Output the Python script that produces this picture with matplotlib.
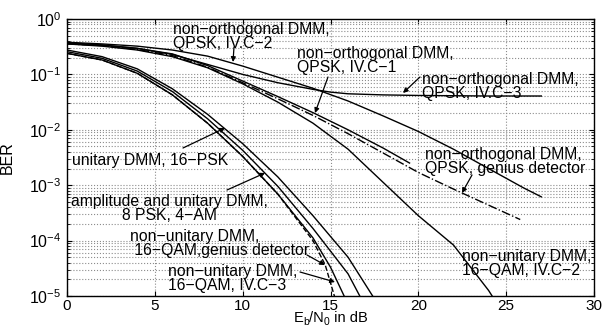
import numpy as np
import matplotlib
matplotlib.use("Agg")
import matplotlib.pyplot as plt

plt.rcParams["font.family"] = ["Liberation Sans", "DejaVu Sans"]

# Eb/N0 (dB) and log10(BER)
snr_c2 = [0, 2, 4, 6, 8, 10, 12, 14, 16, 18, 20, 22, 24, 26, 27]
ber_c2 = [-0.42, -0.45, -0.49, -0.56, -0.67, -0.85, -1.05, -1.25, -1.48, -1.75, -2.03, -2.35, -2.70, -3.05, -3.21]

snr_c3 = [0, 2, 4, 6, 8, 10, 12, 14, 15, 16, 18, 20, 22, 24, 27]
ber_c3 = [-0.43, -0.47, -0.53, -0.64, -0.82, -1.00, -1.15, -1.27, -1.32, -1.35, -1.37, -1.38, -1.385, -1.39, -1.39]

snr_c1 = [0, 2, 4, 6, 8, 10, 12, 14, 16, 18, 19.5]
ber_c1 = [-0.44, -0.47, -0.53, -0.63, -0.84, -1.12, -1.40, -1.69, -2.00, -2.33, -2.60]

snr_gen_q = [0, 2, 4, 6, 8, 10, 12, 14, 16, 18, 20, 22, 24, 25.8]
ber_gen_q = [-0.45, -0.48, -0.55, -0.66, -0.87, -1.15, -1.44, -1.74, -2.07, -2.42, -2.77, -3.07, -3.36, -3.62]

snr_nu2 = [0, 2, 4, 6, 8, 10, 12, 14, 16, 18, 20, 22, 24, 25]
ber_nu2 = [-0.45, -0.49, -0.56, -0.68, -0.88, -1.17, -1.50, -1.88, -2.35, -2.95, -3.55, -4.08, -4.90, -5.40]

snr_psk = [0, 2, 4, 6, 8, 10, 12, 14, 16, 17.4, 18]
ber_psk = [-0.56, -0.68, -0.90, -1.26, -1.72, -2.25, -2.85, -3.55, -4.30, -5.00, -5.30]

snr_amp = [0, 2, 4, 6, 8, 10, 12, 14, 16, 17]
ber_amp = [-0.59, -0.71, -0.94, -1.31, -1.80, -2.37, -3.02, -3.78, -4.60, -5.20]

snr_nu3 = [0, 2, 4, 6, 8, 10, 12, 14, 15, 16]
ber_nu3 = [-0.62, -0.74, -0.98, -1.37, -1.88, -2.48, -3.16, -3.95, -4.48, -5.15]

snr_gen_16 = [0, 2, 4, 6, 8, 10, 12, 14, 14.7, 15.5]
ber_gen_16 = [-0.62, -0.74, -0.98, -1.37, -1.88, -2.48, -3.16, -4.00, -4.44, -5.30]

curves = [
    (snr_c2, ber_c2, "-"),
    (snr_c3, ber_c3, "-"),
    (snr_c1, ber_c1, "-"),
    (snr_gen_q, ber_gen_q, "-."),
    (snr_nu2, ber_nu2, "-"),
    (snr_psk, ber_psk, "-"),
    (snr_amp, ber_amp, "-"),
    (snr_nu3, ber_nu3, "-"),
    (snr_gen_16, ber_gen_16, "--"),
]

W, H = 603, 329
X0, X1, Y0, Y1 = 67, 594, 19, 296


def px(xp, yp):
    """pixel position in the reference -> data coords"""
    x = (xp - X0) / (X1 - X0) * 30
    y = 10 ** (-(yp - Y0) / (Y1 - Y0) * 5)
    return x, y


fig = plt.figure(figsize=(W / 100, H / 100), dpi=100)
ax = fig.add_axes([X0 / W, 1 - Y1 / H, (X1 - X0) / W, (Y1 - Y0) / H])

for snr, lber, ls in curves:
    ax.semilogy(snr, 10 ** np.array(lber), ls, color="black", linewidth=1.0)

ax.set_xlim(0, 30)
ax.set_ylim(1e-5, 1)
ax.set_xticks(range(0, 31, 5))
ax.grid(True, which="major", linestyle=":", color="0.55", linewidth=0.8)
ax.grid(True, which="minor", axis="y", linestyle=":", color="0.55", linewidth=0.8)
ax.tick_params(direction="in", top=True, right=True, which="both", labelsize=11.5, pad=4)
ax.tick_params(axis="x", pad=2, labelsize=11)
for s in ax.spines.values():
    s.set_linewidth(1.0)

ax.set_ylabel("BER", fontsize=11.5)
ax.yaxis.set_label_coords(-0.1, 0.5)

# x label "E_b/N_0 in dB" built from pieces so subscripts stay compact
renderer = fig.canvas.get_renderer()
pieces = [("E", 10.5, 0), ("b", 7.5, -3), ("/N", 10.5, 0), ("0", 7.5, -3), (" in dB", 10.5, 0)]
base_y = 7.0
parts = []
xcur = 0.0
for s, size, dy in pieces:
    t = fig.text(xcur / W, (base_y + dy) / H, s, fontsize=size, va="baseline", ha="left")
    bb = t.get_window_extent(renderer)
    parts.append((t, xcur))
    xcur += bb.width
shift = (X0 + X1) / 2 - xcur / 2
for t, x in parts:
    t.set_x((x + shift) / W)

fs = 11.3
labels = [
    ("non\u2212orthogonal DMM,\nQPSK, IV.C\u22122", 173, 22, "left"),
    ("non\u2212orthogonal DMM,\nQPSK, IV.C\u22121", 297, 46, "left"),
    ("non\u2212orthogonal DMM,\nQPSK, IV.C\u22123", 422, 72, "left"),
    ("non\u2212orthogonal DMM,\nQPSK, genius detector", 425, 147, "left"),
    ("unitary DMM, 16\u2212PSK", 72, 153, "left"),
    ("amplitude and unitary DMM,\n8 PSK, 4\u2212AM", 169, 194, "center"),
    ("non\u2212unitary DMM,\n 16\u2212QAM,genius detector", 130, 229, "left"),
    ("non\u2212unitary DMM,\n16\u2212QAM, IV.C\u22123", 168, 264, "left"),
    ("non\u2212unitary DMM,\n16\u2212QAM, IV.C\u22122", 462, 249, "left"),
]
for txt, xp, yp, ha in labels:
    ax.text(*px(xp, yp), txt, fontsize=fs, ha=ha, va="top",
            multialignment=ha, linespacing=0.88)

arrows = [
    ((234, 47), (233, 62)),
    ((328, 77), (315, 113)),
    ((420, 77), (403, 93)),
    ((472, 175), (462, 193)),
    ((183, 148), (225, 128)),
    ((227, 190), (265, 173)),
    ((307, 255), (325, 265)),
    ((300, 272), (335, 282)),
]
for (tx, ty), (hx, hy) in arrows:
    ax.annotate("", xy=px(hx, hy), xytext=px(tx, ty),
                arrowprops=dict(arrowstyle="-|>", color="black", lw=0.9,
                                mutation_scale=7, shrinkA=0, shrinkB=0))

fig.savefig("out.png", dpi=100)
